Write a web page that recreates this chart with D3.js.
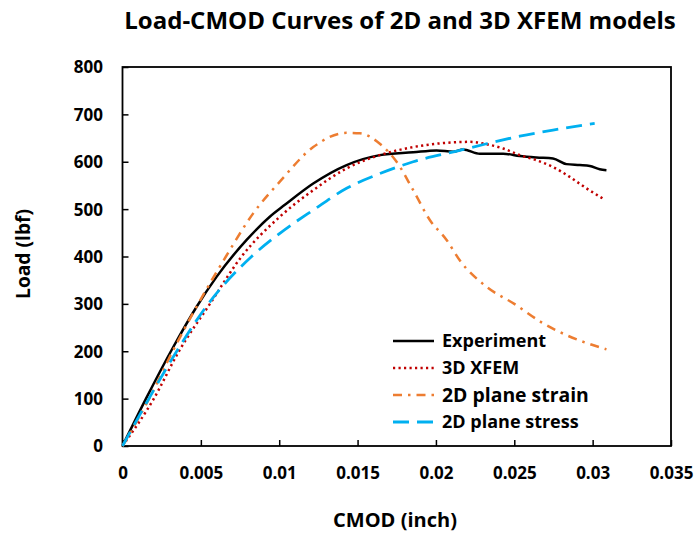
<!DOCTYPE html>
<html><head><meta charset="utf-8">
<script src="https://cdn.jsdelivr.net/npm/d3@7"></script>
<style>body{margin:0;background:#fff}svg{display:block}text{font-family:"Open Sans",sans-serif;font-weight:bold;fill:#000}</style>
</head><body>
<script>
const xTicks = [0, 0.005, 0.01, 0.015, 0.02, 0.025, 0.03, 0.035];
const yTicks = [0, 100, 200, 300, 400, 500, 600, 700, 800];

const expX = [0, 0.0015, 0.00324, 0.00473, 0.006, 0.00792, 0.0094, 0.01036, 0.01217, 0.0143, 0.01642, 0.01855, 0.02004, 0.0211, 0.02173, 0.0228, 0.02429, 0.02535, 0.02642, 0.02747, 0.02833, 0.02918, 0.02982, 0.03045, 0.03088];
const expY = [0, 100, 209, 294, 357, 435, 484, 509, 554, 593, 614, 620, 624, 621, 626, 617, 617, 612, 609, 607, 595, 593, 591, 584, 582];

const xfemX = [0, 0.002, 0.0036, 0.00558, 0.0076, 0.01004, 0.01217, 0.0143, 0.01642, 0.01855, 0.02068, 0.02216, 0.02323, 0.02429, 0.02535, 0.02642, 0.02747, 0.02854, 0.0296, 0.03077];
const xfemY = [0, 100, 200, 300, 400, 484, 540, 586, 614, 631, 640, 642, 637, 628, 614, 603, 589, 568, 544, 520];

const strainX = [0, 0.0017, 0.0032, 0.00483, 0.0066, 0.00834, 0.01004, 0.01217, 0.0143, 0.01515, 0.01642, 0.01749, 0.01855, 0.01961, 0.02068, 0.02152, 0.02323, 0.025, 0.02684, 0.02833, 0.03088];
const strainY = [0, 100, 200, 300, 400, 491, 558, 631, 661, 660, 638, 600, 540, 477, 435, 392, 336, 300, 259, 234, 204];

const stressX = [0, 0.00165, 0.00346, 0.00547, 0.00824, 0.01004, 0.01217, 0.0143, 0.01642, 0.01855, 0.02152, 0.02323, 0.02535, 0.02747, 0.03013];
const stressY = [0, 98, 200, 300, 400, 449, 498, 544, 575, 600, 624, 638, 654, 667, 681];

const seriesNames = ["Experiment", "3D XFEM", "2D plane strain", "2D plane stress"];
const titleText = "Load-CMOD Curves of 2D and 3D XFEM models";
const xTitle = "CMOD (inch)";
const yTitle = "Load (lbf)";

const W = 697, H = 535;
const L = 122.5, R = 671, T = 67, B = 446;
const svg = d3.select("body").append("svg").attr("width", W).attr("height", H);
const x = d3.scaleLinear().domain([0, 0.035]).range([L, R]);
const y = d3.scaleLinear().domain([0, 800]).range([B, T]);

function fit(sel, target) {
  const w = sel.node().getComputedTextLength();
  const fs = parseFloat(sel.attr("font-size"));
  sel.attr("font-size", fs * target / w);
}

// axes
const gx = svg.append("g").attr("transform", `translate(0,${B})`)
  .call(d3.axisBottom(x).tickValues(xTicks).tickSizeInner(-6).tickSizeOuter(0).tickFormat(d => d === 0 ? "0" : String(+d.toFixed(3))));
gx.select(".domain").remove();
gx.selectAll("line").attr("stroke", "#000").attr("stroke-width", 1.5);
gx.selectAll("text").attr("font-size", 17).attr("font-family", "Open Sans").attr("font-weight", "bold").attr("y", 27).attr("dy", "0.35em");

const gy = svg.append("g").attr("transform", `translate(${L},0)`)
  .call(d3.axisLeft(y).tickValues(yTicks).tickSizeInner(-6).tickSizeOuter(0));
gy.select(".domain").remove();
gy.selectAll("line").attr("stroke", "#000").attr("stroke-width", 1.5);
gy.selectAll("text").attr("font-size", 17).attr("font-family", "Open Sans").attr("font-weight", "bold").attr("x", -19.5).attr("dy", "0.35em");

svg.append("rect").attr("x", L).attr("y", T).attr("width", R - L).attr("height", B - T)
  .attr("fill", "none").attr("stroke", "#000").attr("stroke-width", 1.8);

const series = [
  {xs: expX, ys: expY, color: "#000000", dash: null, width: 2.5},
  {xs: xfemX, ys: xfemY, color: "#C00000", dash: "2.2,3.3", width: 2.5},
  {xs: strainX, ys: strainY, color: "#ED7D31", dash: "9,6,2.5,6", width: 2.5},
  {xs: stressX, ys: stressY, color: "#00B0F0", dash: "16,8", width: 2.8}
];

series.forEach(s => {
  const pts = s.xs.map((v, i) => [v, s.ys[i]]);
  const line = d3.line().x(d => x(d[0])).y(d => y(d[1])).curve(d3.curveMonotoneX);
  const p = svg.append("path").attr("d", line(pts)).attr("fill", "none")
    .attr("stroke", s.color).attr("stroke-width", s.width).attr("stroke-linejoin", "round");
  if (s.dash) p.attr("stroke-dasharray", s.dash);
});

// legend
const legY = [341, 368, 395, 422];
series.forEach((s, i) => {
  const l = svg.append("line").attr("x1", 393).attr("x2", 434).attr("y1", legY[i]).attr("y2", legY[i])
    .attr("stroke", s.color).attr("stroke-width", s.width);
  if (s.dash) l.attr("stroke-dasharray", s.dash);
  const t = svg.append("text").attr("x", 442).attr("y", legY[i]).attr("dy", "0.35em")
    .attr("font-size", 18).text(seriesNames[i]);
  if (i === 2) fit(t, 147);
});

// titles
const tt = svg.append("text").attr("x", 400).attr("y", 21).attr("dy", "0.35em").attr("text-anchor", "middle")
  .attr("font-size", 22).text(titleText);
fit(tt, 552);
const xt = svg.append("text").attr("x", 395).attr("y", 520).attr("dy", "0.35em").attr("text-anchor", "middle")
  .attr("font-size", 18).text(xTitle);
fit(xt, 124);
const yt = svg.append("text").attr("transform", "translate(23,254) rotate(-90)").attr("dy", "0.35em").attr("text-anchor", "middle")
  .attr("font-size", 18).text(yTitle);
fit(yt, 90);
</script>
</body></html>
